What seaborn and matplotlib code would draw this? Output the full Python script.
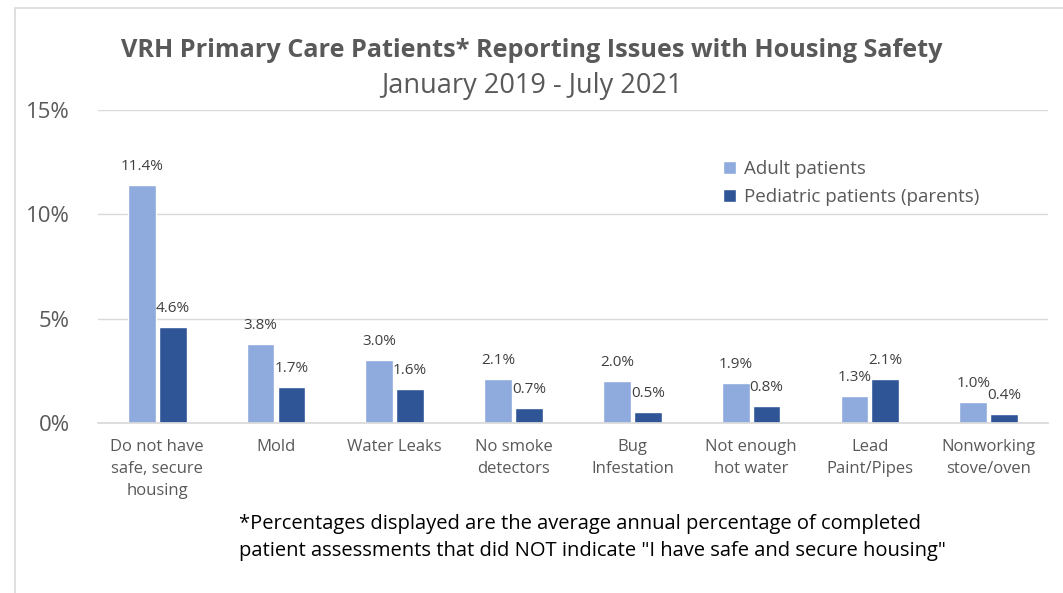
import matplotlib
matplotlib.use("Agg")
import matplotlib.pyplot as plt
from matplotlib.patches import Rectangle
from matplotlib.ticker import FuncFormatter
import seaborn as sns
import pandas as pd

# data
categories = ["Do not have\nsafe, secure\nhousing", "Mold", "Water Leaks", "No smoke\ndetectors",
              "Bug\nInfestation", "Not enough\nhot water", "Lead\nPaint/Pipes", "Nonworking\nstove/oven"]
adult = [11.4, 3.8, 3.0, 2.1, 2.0, 1.9, 1.3, 1.0]
pediatric = [4.6, 1.7, 1.6, 0.7, 0.5, 0.8, 2.1, 0.4]
series = ["Adult patients", "Pediatric patients (parents)"]
colors = ["#8FAADC", "#2F5597"]

df = pd.DataFrame({
    "category": categories * 2,
    "value": adult + pediatric,
    "group": [series[0]] * len(adult) + [series[1]] * len(pediatric),
})

sns.set_theme(style="white")
plt.rcParams["font.family"] = ["Open Sans", "DejaVu Sans"]
txt = "#595959"

fig = plt.figure(figsize=(10.63, 5.93), dpi=100)
ax = fig.add_axes([0.092, 0.287, 0.894, 0.527])

sns.barplot(data=df, x="category", y="value", hue="group", palette=colors,
            width=0.52, gap=0.1, saturation=1, ax=ax)

for cont in ax.containers:
    ax.bar_label(cont, labels=[f"{v:.1f}%" for v in cont.datavalues],
                 padding=8, fontsize=11, color="#404040")

ax.set_ylim(0, 15)
ax.set_yticks([0, 5, 10, 15])
ax.yaxis.set_major_formatter(FuncFormatter(lambda v, p: f"{v:.0f}%"))
ax.grid(axis="y", color="#D9D9D9", linewidth=1)
ax.set_axisbelow(True)
for s in ["top", "right", "left"]:
    ax.spines[s].set_visible(False)
ax.spines["bottom"].set_color("#D9D9D9")
ax.tick_params(axis="x", length=0, labelsize=12, colors=txt, pad=12)
ax.tick_params(axis="y", length=0, labelsize=16, colors=txt, pad=20)
for lab in ax.get_xticklabels():
    lab.set_linespacing(1.5)
ax.set_xlabel("")
ax.set_ylabel("")

ax.legend(loc="upper left", bbox_to_anchor=(0.64, 0.895), frameon=False, fontsize=13.5,
          labelcolor=txt, handlelength=0.7, handleheight=0.7, handletextpad=0.4, labelspacing=0.55)

fig.text(0.5, 0.915, "VRH Primary Care Patients* Reporting Issues with Housing Safety",
         ha="center", va="center", fontsize=18.2, fontweight="bold", color=txt)
fig.text(0.5, 0.855, "January 2019 - July 2021", ha="center", va="center", fontsize=19.5, color=txt)
fig.text(0.225, 0.093, "*Percentages displayed are the average annual percentage of completed\n"
         "patient assessments that did NOT indicate \"I have safe and secure housing\"",
         ha="left", va="center", fontsize=14.5, color="black", linespacing=1.45)

fig.patches.append(Rectangle((0.014, -0.02), 1.1, 1.006, transform=fig.transFigure,
                             fill=False, edgecolor="#D9D9D9", linewidth=1.2))

fig.savefig("out.png", dpi=100)
